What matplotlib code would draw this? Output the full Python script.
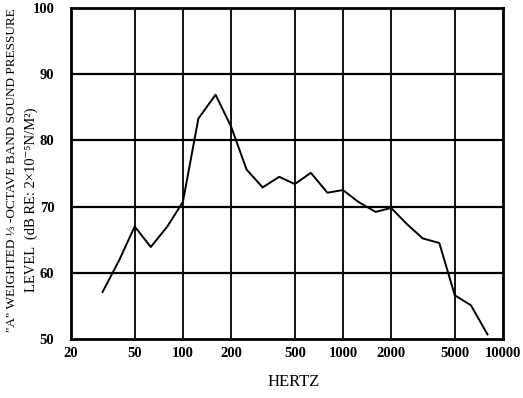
import numpy as np
import matplotlib.pyplot as plt

# 1/3-octave band centre frequencies and A-weighted levels
freqs = [31.5, 40, 50, 63, 80, 100, 125, 160, 200, 250, 315, 400, 500,
         630, 800, 1000, 1250, 1600, 2000, 2500, 3150, 4000, 5000, 6300, 8000]
levels = [57.1, 61.9, 67.0, 63.9, 67.0, 70.7, 83.3, 86.9, 82.1, 75.6, 72.9,
          74.5, 73.4, 75.1, 72.1, 72.5, 70.7, 69.2, 69.8, 67.4, 65.2, 64.5,
          56.6, 55.1, 50.7]

xticks = [20, 50, 100, 200, 500, 1000, 2000, 5000, 10000]
xtick_labels = ["20", "50", "100", "200", "500", "1000", "2000", "5000", "10000"]
yticks = [50, 60, 70, 80, 90, 100]

serif = ["Liberation Serif", "DejaVu Serif"]
plt.rcParams["font.family"] = serif

fig = plt.figure(figsize=(5.23, 3.98), dpi=100)
ax = fig.add_axes([71 / 523, 1 - 339 / 398, 432 / 523, 331 / 398])

ax.plot(freqs, levels, color="black", lw=1.4)

ax.set_xscale("log")
ax.set_xlim(20, 10000)
ax.set_ylim(50, 100)
ax.set_xticks(xticks)
ax.set_xticklabels(xtick_labels)
ax.xaxis.set_minor_locator(plt.NullLocator())
ax.set_yticks(yticks)

for x in xticks[1:-1]:
    ax.axvline(x, color="black", lw=1.3)
for y in yticks[1:-1]:
    ax.axhline(y, color="black", lw=1.6)

for s in ax.spines.values():
    s.set_linewidth(2)

ax.tick_params(length=0, pad=6, labelsize=10.5)
for lab in ax.get_xticklabels() + ax.get_yticklabels():
    lab.set_fontweight("bold")
ax.tick_params(axis="y", pad=12)

fig.text(294 / 523, 1 - 382 / 398, "HERTZ", ha="center", va="center",
         fontsize=12)
fig.text(12 / 523, 1 - 170 / 398,
         "\"A\" WEIGHTED ⅓ -OCTAVE BAND SOUND PRESSURE",
         rotation=90, ha="center", va="center", fontsize=9.5)
fig.text(31 / 523, 1 - 200 / 398,
         "LEVEL  (dB RE: 2×10⁻⁵N/M²)",
         rotation=90, ha="center", va="center", fontsize=10.5)

fig.savefig("out.png", dpi=100)
